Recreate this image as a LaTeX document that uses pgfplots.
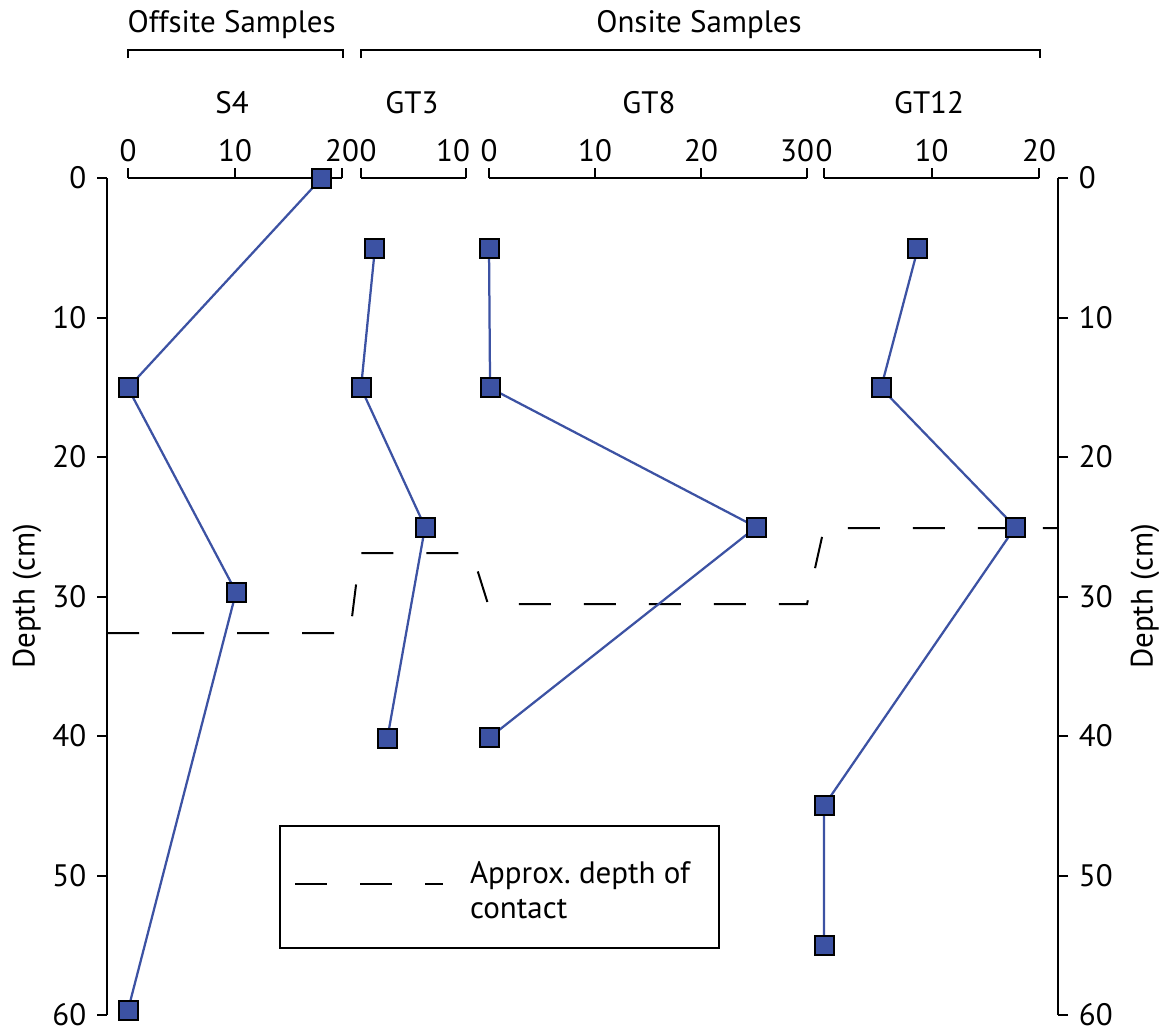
\documentclass[border=0pt]{standalone}
\usepackage{pgfplots}
\pgfplotsset{compat=1.18}
\usepackage{fontspec}
\setmainfont{PT Sans}
\definecolor{mblue}{RGB}{60,82,163}
\newcommand\fs{\fontsize{12.4}{14}\selectfont}
\pgfplotsset{
  common/.style={scale only axis, height=334.8pt, ymin=0, ymax=60, y dir=reverse,
    tick align=outside, major tick length=4pt, clip=false, anchor=center,
    axis line style={line width=0.8pt, black},
    every tick/.style={black, line width=0.8pt},
    ticklabel style={font=\fs},
    /pgf/number format/assume math mode=true},
  panel/.style={common, axis y line=none, axis x line*=top, ytick=\empty,
    xticklabel style={yshift=-2pt}},
  depth/.style={common, width=380.4pt, xmin=107, xmax=1058, axis x line=none,
    ytick={0,10,...,60}, yticklabel style={inner ysep=0pt},
    ylabel={Depth (cm)}, ylabel style={font=\fs, inner sep=0pt}},
  prof/.style={color=mblue, line width=0.9pt, mark=square*, mark size=3.8pt,
    mark options={fill=mblue, draw=black, line width=0.8pt, solid}},
}
\begin{document}
\fs
\begin{tikzpicture}[x=0.4pt,y=-0.4pt]
% depth axes
\begin{axis}[depth, at={(233pt,-238.6pt)}, axis y line*=left,
  legend style={at={(axis description cs:0.1809,0.2270)}, anchor=north west,
    draw=black, line width=0.8pt, inner xsep=5.6pt, inner ysep=0pt,
    cells={anchor=base west},
    nodes={inner sep=0pt, text depth=, text height=, font=\fs},
    /tikz/every odd column/.append style={column sep=10.4pt}},
  legend image code/.code={\draw[#1] (0pt,0pt) -- (59.2pt,0pt);}]
\addplot[black, line width=0.8pt, dash pattern=on 12.8pt off 13.2pt] coordinates {
  (107,32.62) (350,32.62) (360,26.88) (472,26.88) (488,30.54) (807,30.54) (824,25.09) (1058,25.09)};
\addlegendentry{\begin{tabular}[t]{@{}p{94pt}@{}}\rule{0pt}{23pt}Approx.\ depth of\\contact\rule[-11.6pt]{0pt}{11.6pt}\end{tabular}}
\end{axis}
\begin{axis}[depth, at={(233pt,-238.6pt)}, axis y line*=right, ylabel shift=2.8pt]
\addplot[draw=none] coordinates {(107,0)};
\end{axis}
% S4
\begin{axis}[panel, width=85.6pt, at={(94pt,-238.6pt)}, xmin=0, xmax=20, xtick={0,10,20}]
\addplot[prof] coordinates {(18.1,0) (0,15.05) (10.1,29.68) (0,59.64)};
\end{axis}
% GT3
\begin{axis}[panel, width=42pt, at={(165.4pt,-238.6pt)}, xmin=0, xmax=10, xtick={0},
  xticklabel style={xshift=2.8pt},
  extra x ticks={10}, extra x tick style={xticklabel style={xshift=-8pt}}]
\addplot[prof] coordinates {(1.33,5.02) (0,15.05) (6.1,25.02) (2.5,40.2)};
\end{axis}
% GT8
\begin{axis}[panel, width=127.2pt, at={(259.2pt,-238.6pt)}, xmin=0, xmax=30, xtick={0,10,20},
  extra x ticks={30}, extra x tick style={xticklabel style={xshift=-4pt}}]
\addplot[prof] coordinates {(0,5.02) (0.1,15.05) (25.2,25.02) (0,40.14)};
\end{axis}
% GT12
\begin{axis}[panel, width=86pt, at={(372.6pt,-238.6pt)}, xmin=0, xmax=20, xtick={0,10,20}]
\addplot[prof] coordinates {(8.74,5.02) (5.3,15.05) (17.8,25.02) (0,45.0) (0,54.98)};
\end{axis}
% group brackets and titles
\draw[line width=0.8pt] (128,58) -- (128,50) -- (343,50) -- (343,58);
\draw[line width=0.8pt] (361,58) -- (361,50) -- (1040,50) -- (1040,58);
\node[anchor=base, inner sep=0pt] at (231.7,32) {Offsite Samples};
\node[anchor=base, inner sep=0pt] at (699,32) {Onsite Samples};
\node[anchor=base, inner sep=0pt] at (232,113) {S4};
\node[anchor=base, inner sep=0pt] at (412,113) {GT3};
\node[anchor=base, inner sep=0pt] at (649,113) {GT8};
\node[anchor=base, inner sep=0pt] at (929,113) {GT12};
\pgfresetboundingbox
\path (0,0) rectangle (1159,1028);
\end{tikzpicture}
\end{document}
